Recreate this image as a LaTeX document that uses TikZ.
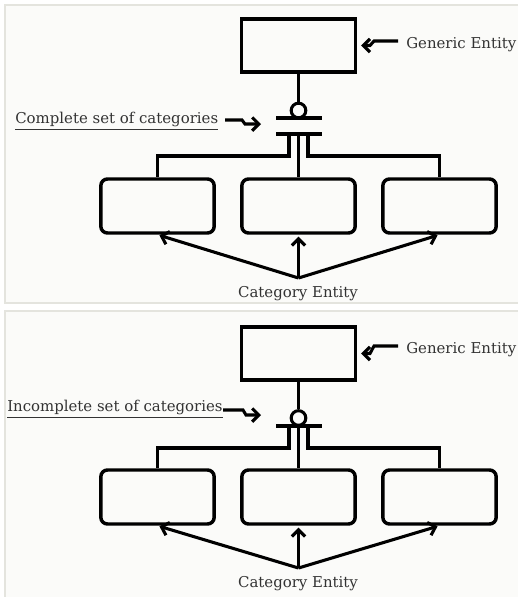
\documentclass[tikz,border=0pt]{standalone}
\usepackage{fontspec}
\setmainfont{DejaVu Serif}
\usetikzlibrary{arrows.meta}
\definecolor{panelfill}{HTML}{FBFBF9}
\definecolor{panelrule}{HTML}{E4E4DE}
\definecolor{labelink}{HTML}{333333}

\begin{document}
\begin{tikzpicture}[x=0.75pt,y=-0.75pt,
  entity/.style={draw,line width=2.6pt,inner sep=0,minimum width=85.5pt,minimum height=39.75pt},
  category/.style={draw,line width=2.6pt,rounded corners=5pt,inner sep=0,minimum width=85pt,minimum height=40.5pt},
  link/.style={line width=2.3pt},
  bar/.style={line width=2.5pt},
  ring/.style={draw,circle,line width=2.3pt,inner sep=0,minimum size=11pt},
  pointer/.style={line width=2.3pt,-{Straight Barb[length=5pt,width=10pt]}},
  caption/.style={text=labelink,font=\fontsize{11.2pt}{13pt}\selectfont,inner sep=0},
  panel/.style={fill=panelfill,draw=panelrule,line width=1pt}
]
\useasboundingbox (0,0) rectangle (518,597);
\fill[white] (0,0) rectangle (518,597);
\path[panel] (5,5) rectangle (530,303);
\path[panel] (5,311) rectangle (530,610);

% ---------- complete set of categories ----------
\node[entity] (g1) at (298.5,45.5) {};
\node[ring] (r1) at (298.5,110.5) {};
\coordinate (u1l) at (276,118); \coordinate (u1r) at (322,118);
\coordinate (v1l) at (276,134); \coordinate (v1r) at (322,134);
\draw[bar] (u1l) -- (u1r);
\draw[bar] (v1l) -- (v1r);
\draw[link] (g1.south) -- (r1.north);

\node[category] (c1l) at (157.5,206) {};
\node[category] (c1m) at (298.5,206) {};
\node[category] (c1r) at (439.5,206) {};

\coordinate (s1l) at (289,134); \coordinate (k1l) at (289,156);
\coordinate (s1r) at (308,134); \coordinate (k1r) at (308,156);
\coordinate (s1m) at (298.5,134);
\draw[link] (s1l) -- (k1l) -| (c1l.north);
\draw[link] (s1r) -- (k1r) -| (c1r.north);
\draw[link] (s1m) -- (c1m.north);

\coordinate (h1) at (298.5,278);
\draw[pointer,shorten >=1.5pt] (h1) -- (c1l.south);
\draw[pointer,shorten >=1.5pt] (h1) -- (c1m.south);
\draw[pointer,shorten >=1.5pt] (h1) -- (c1r.south);
\node[caption] (ce1) at (298,294) {Category Entity};

\node[caption,anchor=west] (ge1) at (406,45) {Generic Entity};
\coordinate (ga1) at (398,41);
\draw[pointer,shorten >=3pt] (ga1) -- (374,41) -- (370,45.5) -- (g1.east);

\node[caption,anchor=west] (cs1) at (15,121) {\underline{Complete set of categories}};
\coordinate (ct1) at (261,124);
\draw[pointer] (225,120) -- (242,120) -- (245,124) -- (ct1);

% ---------- incomplete set of categories ----------
\node[entity] (g2) at (298.5,353.5) {};
\node[ring] (r2) at (298.5,418) {};
\coordinate (u2l) at (276,426); \coordinate (u2r) at (322,426);
\draw[bar] (u2l) -- (u2r);
\draw[link] (g2.south) -- (r2.north);

\node[category] (c2l) at (157.5,497) {};
\node[category] (c2m) at (298.5,497) {};
\node[category] (c2r) at (439.5,497) {};

\coordinate (s2l) at (289,426); \coordinate (k2l) at (289,448);
\coordinate (s2r) at (308,426); \coordinate (k2r) at (308,448);
\draw[link] (s2l) -- (k2l) -| (c2l.north);
\draw[link] (s2r) -- (k2r) -| (c2r.north);
\draw[link] (r2.south) -- (c2m.north);

\coordinate (h2) at (298.5,568);
\draw[pointer,shorten >=1.5pt] (h2) -- (c2l.south);
\draw[pointer,shorten >=1.5pt] (h2) -- (c2m.south);
\draw[pointer,shorten >=1.5pt] (h2) -- (c2r.south);
\node[caption] (ce2) at (298,584) {Category Entity};

\node[caption,anchor=west] (ge2) at (406,350) {Generic Entity};
\coordinate (ga2) at (398,346);
\draw[pointer,shorten >=3pt] (ga2) -- (374,346) -- (370,353.5) -- (g2.east);

\node[caption,anchor=west] (cs2) at (7,409) {\underline{Incomplete set of categories}};
\coordinate (ct2) at (261,415);
\draw[pointer] (223,410) -- (243,410) -- (246,415) -- (ct2);
\end{tikzpicture}
\end{document}
